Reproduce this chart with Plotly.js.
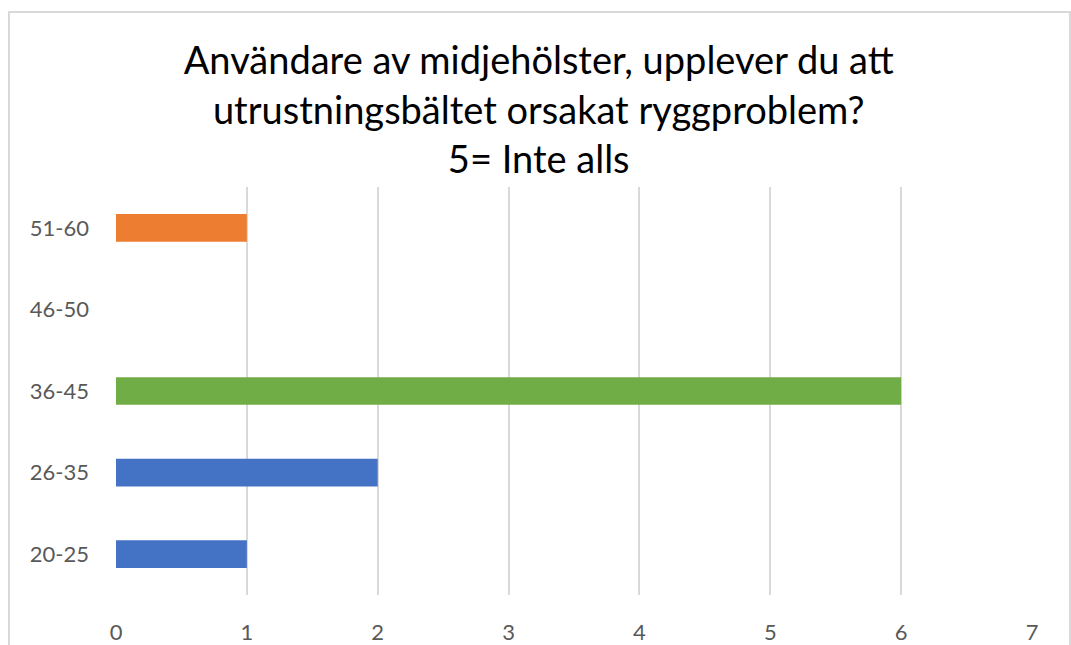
<!DOCTYPE html>
<html>
<head>
<meta charset="utf-8">
<script src="https://cdn.plot.ly/plotly-3.0.1.min.js"></script>
<style>html,body{margin:0;padding:0;background:#fff;}#chart{width:1071px;height:645px;}</style>
</head>
<body>
<div id="chart"></div>
<script>
var categories = ["20-25", "26-35", "36-45", "46-50", "51-60"];
var values = [1, 2, 6, 0, 1];
var barColors = ["#4472C4", "#4472C4", "#70AD47", "#4472C4", "#ED7D31"];
var xTicks = [0, 1, 2, 3, 4, 5, 6, 7];
var titleText = "Användare av midjehölster, upplever du att<br>utrustningsbältet orsakat ryggproblem?<br>5= Inte alls";

var font = "Lato, 'Open Sans', sans-serif";

var trace = {
  type: "bar",
  orientation: "h",
  y: categories,
  x: values,
  marker: {color: barColors},
  hoverinfo: "x+y"
};

var layout = {
  width: 1071,
  height: 645,
  margin: {l: 116, r: 39, t: 187, b: 50},
  paper_bgcolor: "#ffffff",
  plot_bgcolor: "#ffffff",
  showlegend: false,
  bargap: 0.66,
  title: {
    text: titleText,
    font: {family: font, size: 38, color: "#000000"},
    x: 0.503, xref: "container", xanchor: "center",
    y: 0.885, yref: "container", yanchor: "top"
  },
  xaxis: {
    range: [0, 7],
    tickvals: xTicks,
    ticktext: xTicks.map(String),
    showgrid: true,
    gridcolor: "#d9d9d9",
    gridwidth: 2,
    zeroline: false,
    showline: false,
    ticks: "",
    ticklabelstandoff: 22,
    tickfont: {family: font, size: 22, color: "#595959"}
  },
  yaxis: {
    type: "category",
    categoryorder: "array",
    categoryarray: categories,
    showgrid: false,
    zeroline: false,
    showline: false,
    ticks: "",
    ticklabelstandoff: 26,
    tickfont: {family: font, size: 22, color: "#595959"}
  },
  shapes: [{
    type: "rect", xref: "paper", yref: "paper",
    x0: -0.1168, x1: 1.0415, y0: -0.2, y1: 1.429,
    line: {color: "#d9d9d9", width: 2},
    fillcolor: "rgba(0,0,0,0)", layer: "below"
  }]
};

Plotly.newPlot("chart", [trace], layout, {displayModeBar: false, staticPlot: true});
</script>
</body>
</html>
